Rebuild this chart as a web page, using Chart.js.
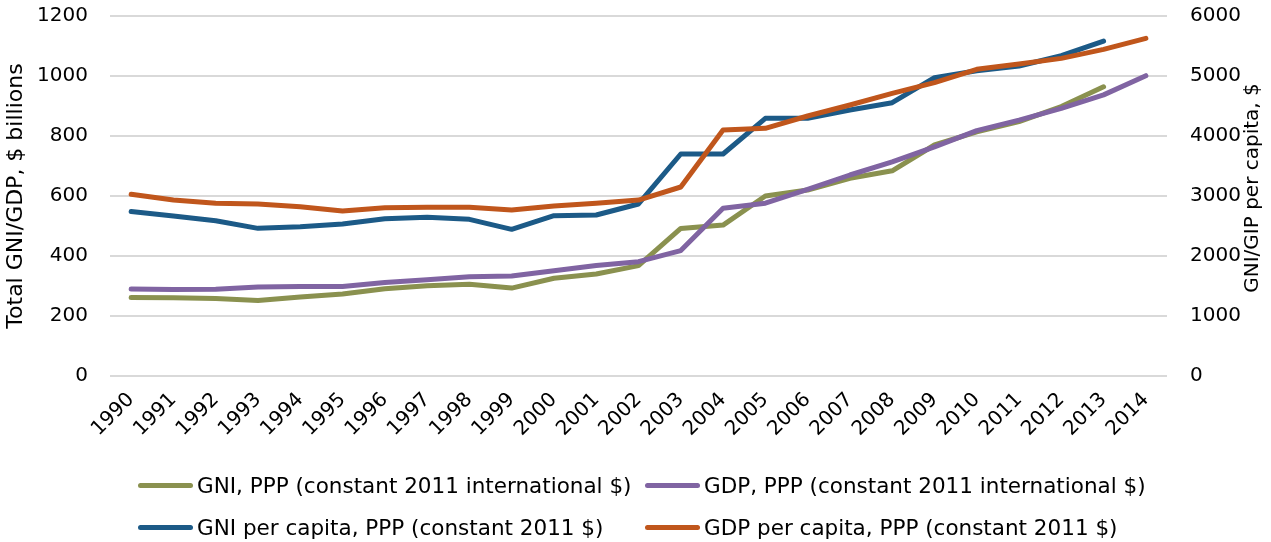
<!DOCTYPE html>
<html>
<head>
<meta charset="utf-8">
<script src="https://cdn.jsdelivr.net/npm/chart.js@4.4.1/dist/chart.umd.min.js"></script>
<style>
  html, body { margin: 0; padding: 0; background: #fff; overflow: hidden; }
  .wrap { position: relative; width: 1271px; height: 542px; }
  .legend {
    position: absolute; left: 138px; top: 470px;
    display: grid; grid-template-columns: 507px auto; row-gap: 12px;
    font-family: "DejaVu Sans", sans-serif; font-size: 21.5px; color: #000;
  }
  .legend .item { display: flex; align-items: center; height: 30px; white-space: nowrap; }
  .legend .swatch { width: 55px; height: 5px; border-radius: 3px; margin-right: 4px; }
</style>
</head>
<body>
<div class="wrap">
  <canvas id="chart" width="1271" height="542"></canvas>
  <div class="legend" id="legend"></div>
</div>
<script>
// ── Data ─────────────────────────────────────
const years = ['1990','1991','1992','1993','1994','1995','1996','1997','1998','1999','2000','2001',
  '2002','2003','2004','2005','2006','2007','2008','2009','2010','2011','2012','2013','2014'];

// $ billions (left axis)
const gniPPP = [262,261,258,252,263,273,291,301,306,293,326,340,368,492,503,600,620,659,684,770,814,848,898,964,null];
const gdpPPP = [290,288,289,297,298,298,312,321,331,333,351,368,381,418,559,576,622,670,714,764,818,853,892,937,1001];

// $ per capita (right axis)
const gniPerCapita = [2740,2667,2588,2461,2489,2533,2622,2644,2611,2444,2672,2683,2867,3700,3700,4294,4294,4433,4555,4972,5089,5167,5338,5583,null];
const gdpPerCapita = [3028,2933,2878,2867,2822,2750,2806,2811,2811,2767,2833,2878,2933,3150,4100,4128,4333,4517,4711,4889,5111,5200,5294,5444,5628];

const seriesNames = [
  'GNI, PPP (constant 2011 international $)',
  'GDP, PPP (constant 2011 international $)',
  'GNI per capita, PPP (constant 2011 $)',
  'GDP per capita, PPP (constant 2011 $)'
];
const colors = ['#8a914f', '#8064a2', '#1c5a87', '#c0561c'];

const FONT = '"DejaVu Sans", sans-serif';

// ── Right axis title (reads bottom-to-top, like the left one) ──
const rightTitle = {
  id: 'rightTitle',
  afterDraw(chart) {
    const { ctx, chartArea } = chart;
    ctx.save();
    ctx.translate(1253, (chartArea.top + chartArea.bottom) / 2 - 8);
    ctx.rotate(-Math.PI / 2);
    ctx.font = '20px ' + FONT;
    ctx.fillStyle = '#000';
    ctx.textAlign = 'center';
    ctx.textBaseline = 'middle';
    ctx.fillText('GNI/GIP per capita, $', 0, 0);
    ctx.restore();
  }
};

const mk = (i, data, axis, order) => ({
  label: seriesNames[i],
  data: data,
  yAxisID: axis,
  borderColor: colors[i],
  backgroundColor: colors[i],
  borderWidth: 5,
  pointRadius: 0,
  tension: 0,
  borderCapStyle: 'round',
  borderJoinStyle: 'round',
  spanGaps: false,
  order: order
});

const plain = v => String(v);

// fixed box sizes so the plot area lands where the original has it
const fixBox = (w, h) => s => {
  if (w) s.width = w;
  if (h) s.height = h;
  s.paddingTop = 16;
  s.paddingBottom = 0;
};

new Chart(document.getElementById('chart'), {
  type: 'line',
  data: {
    labels: years,
    datasets: [
      mk(0, gniPPP, 'y', 4),
      mk(1, gdpPPP, 'y', 3),
      mk(2, gniPerCapita, 'y2', 2),
      mk(3, gdpPerCapita, 'y2', 1)
    ]
  },
  options: {
    responsive: false,
    animation: false,
    layout: { padding: 0 },
    plugins: {
      legend: { display: false },
      tooltip: { enabled: false }
    },
    scales: {
      x: {
        offset: true,
        grid: { display: false },
        border: { display: false },
        ticks: {
          color: '#000',
          font: { family: FONT, size: 20 },
          minRotation: 45, maxRotation: 45,
          autoSkip: false, padding: 4
        },
        afterFit: fixBox(0, 166)
      },
      y: {
        position: 'left',
        min: 0, max: 1200,
        ticks: { stepSize: 200, color: '#000', font: { family: FONT, size: 20 }, padding: 22, callback: plain },
        grid: { color: '#d9d9d9', lineWidth: 2, drawTicks: false },
        border: { display: false },
        title: {
          display: true,
          text: 'Total GNI/GDP, $ billions',
          color: '#000',
          font: { family: FONT, size: 22 },
          padding: { top: 3, bottom: 0 }
        },
        afterFit: fixBox(110, 0)
      },
      y2: {
        position: 'right',
        min: 0, max: 6000,
        ticks: { stepSize: 1000, color: '#000', font: { family: FONT, size: 20 }, padding: 23, callback: plain },
        grid: { display: false, drawTicks: false },
        border: { display: false },
        afterFit: fixBox(104, 0)
      }
    }
  },
  plugins: [rightTitle]
});

// ── HTML legend in a two-column grid ─────────
const legend = document.getElementById('legend');
seriesNames.forEach((name, i) => {
  const item = document.createElement('div');
  item.className = 'item';
  const sw = document.createElement('span');
  sw.className = 'swatch';
  sw.style.background = colors[i];
  item.appendChild(sw);
  item.appendChild(document.createTextNode(name));
  legend.appendChild(item);
});
</script>
</body>
</html>
